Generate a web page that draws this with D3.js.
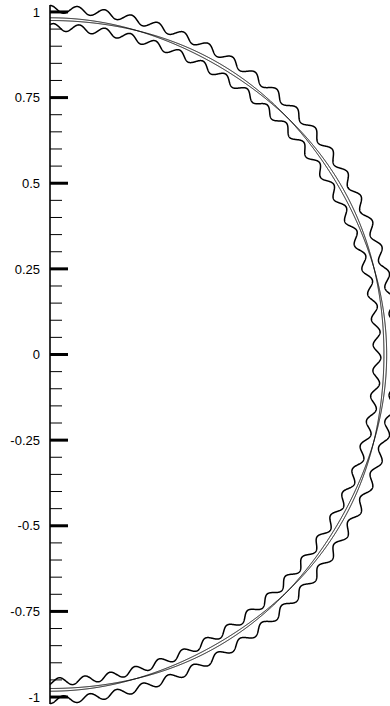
<!DOCTYPE html>
<html>
<head>
<meta charset="utf-8">
<script src="https://cdn.jsdelivr.net/npm/d3@7"></script>
<style>
  html, body { margin: 0; padding: 0; background: #fff; }
  svg { display: block; }
</style>
</head>
<body>
<div id="chart"></div>
<script>
// axis ticks
let majorTicks = [1, 0.75, 0.5, 0.25, 0, -0.25, -0.5, -0.75, -1]
let majorLabels = ['1', '0.75', '0.5', '0.25', '0', '-0.25', '-0.5', '-0.75', '-1']
let minorTicks = d3.range(-20, 21).map(d => d / 20).filter(d => Math.abs(d * 4 - Math.round(d * 4)) > 1e-6)

// band curves: base radius, wave amplitude, periods per half turn, phase (rad)
let curveNames = ['outer', 'twistA', 'twistB', 'inner']
let curveRadius = [1.008, 0.979, 0.979, 0.955]
let curveAmp = [0.011, 0.004, -0.004, 0.011]
let curveWaves = [40, 3, 3, 40]
let curvePhase = [Math.PI / 2, -1.59, -1.59, Math.PI / 4]

let svgWidth = 390
let svgHeight = 706
let svg = d3.select('#chart').append('svg')
    .attr('width', svgWidth)
    .attr('height', svgHeight)

let y = d3.scaleLinear()
    .domain([-1.02, 1.02])
    .range([703.9, 5.1])
let x = d3.scaleLinear()
    .domain([0, 1.02])
    .range([50, 50 + 1.02 * 342.5])

// curves
let thetas = d3.range(0, 3001).map(i => i / 3000 * Math.PI)
let line = d3.line().x(d => x(d[0])).y(d => y(d[1]))

curveNames.forEach((name, k) => {
    let pts = thetas.map(t => {
        let s = Math.sin(2 * curveWaves[k] * t + curvePhase[k])
        let r = curveRadius[k] + curveAmp[k] * s
        return [r * Math.sin(t), r * Math.cos(t)]
    })
    svg.append('path')
        .attr('class', 'curve ' + name)
        .attr('d', line(pts))
        .attr('fill', 'none')
        .attr('stroke', '#000')
        .attr('stroke-width', name.startsWith('twist') ? 1 : 1.5)
})

// axis
let g = svg.append('g').attr('transform', `translate(${x(0)}, 0)`)
g.append('line')
    .attr('x1', 0).attr('x2', 0)
    .attr('y1', y(1.02)).attr('y2', y(-1.02))
    .attr('stroke', '#000')
    .attr('stroke-width', 1.6)

g.selectAll('.minor')
    .data(minorTicks)
    .enter()
    .append('line')
    .attr('class', 'minor')
    .attr('x1', 0).attr('x2', 12)
    .attr('y1', d => y(d)).attr('y2', d => y(d))
    .attr('stroke', '#000')
    .attr('stroke-width', 1)

g.selectAll('.major')
    .data(majorTicks)
    .enter()
    .append('line')
    .attr('class', 'major')
    .attr('x1', 0).attr('x2', 18)
    .attr('y1', d => y(d)).attr('y2', d => y(d))
    .attr('stroke', '#000')
    .attr('stroke-width', 3)

g.selectAll('.label')
    .data(majorTicks)
    .enter()
    .append('text')
    .attr('class', 'label')
    .attr('x', -10)
    .attr('y', d => y(d))
    .attr('dy', '0.36em')
    .attr('text-anchor', 'end')
    .attr('font-family', 'Liberation Sans, Arial, sans-serif')
    .attr('font-size', 13)
    .text((d, i) => majorLabels[i])
</script>
</body>
</html>
